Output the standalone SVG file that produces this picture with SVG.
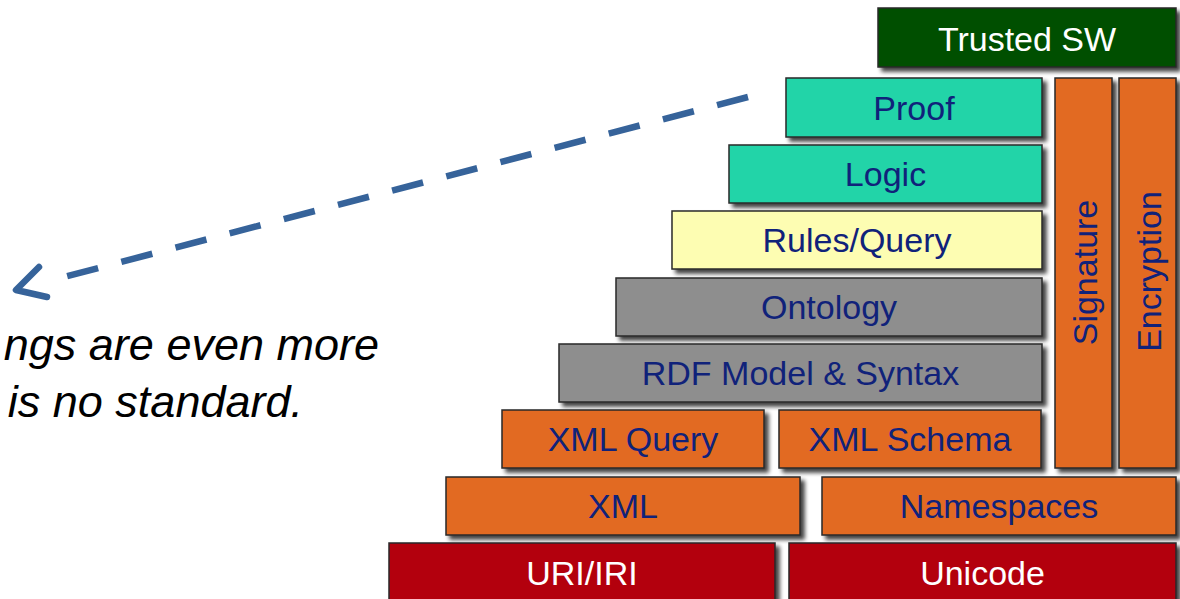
<svg xmlns="http://www.w3.org/2000/svg" width="1180" height="599" viewBox="0 0 1180 599">
<defs>
<filter id="sh" x="-10%" y="-20%" width="130%" height="150%">
<feDropShadow dx="4" dy="4" stdDeviation="2" flood-color="#000" flood-opacity="0.75"/>
</filter>
</defs>
<style>
.b{stroke:#2a2a2a;stroke-width:1.5;filter:url(#sh)}
.t{font-family:"Liberation Sans",Arial,sans-serif;font-size:34px;text-anchor:middle;fill:#10227a}
.w{fill:#ffffff}
.green{fill:#024f02}
.teal{fill:#24d4a8}
.yel{fill:#fdfdb2}
.gray{fill:#8e8e8e}
.or{fill:#e26a22}
.red{fill:#b3000d}
.note{font-family:"Liberation Sans",Arial,sans-serif;font-size:45px;font-style:italic;fill:#000;text-anchor:end}
.arr{fill:none;stroke:#36639a;stroke-width:6.5}
</style>
<rect width="1180" height="599" fill="#ffffff"/>
<g id="connectors">
<line class="arr" x1="748" y1="97" x2="64" y2="277" stroke-dasharray="32 24"/>
<polygon points="16,290 18,287 19,292" fill="#36639a"/>
<polyline class="arr" points="39,267 16,290 47,297" stroke-linecap="round" stroke-linejoin="round" stroke-width="9"/>
</g>
<g id="note">
<text class="note" x="379" y="360">ngs are even more</text>
<text class="note" x="303" y="417">is no standard.</text>
</g>
<g id="trusted"><rect class="b green" x="878" y="8" width="298" height="59"/><text class="t w" x="1027" y="51">Trusted SW</text></g>
<g id="proof"><rect class="b teal" x="786" y="78" width="256" height="59"/><text class="t" x="914" y="120">Proof</text></g>
<g id="logic"><rect class="b teal" x="729" y="145" width="313" height="58"/><text class="t" x="885.5" y="186">Logic</text></g>
<g id="rules"><rect class="b yel" x="672" y="211" width="370" height="58"/><text class="t" x="857" y="252">Rules/Query</text></g>
<g id="ontology"><rect class="b gray" x="616" y="278" width="426" height="58"/><text class="t" x="829" y="319">Ontology</text></g>
<g id="rdf"><rect class="b gray" x="559" y="344" width="483" height="58"/><text class="t" x="800.5" y="385">RDF Model &amp; Syntax</text></g>
<g id="xmlquery"><rect class="b or" x="502" y="410" width="262" height="58"/><text class="t" x="633" y="451">XML Query</text></g>
<g id="xmlschema"><rect class="b or" x="779" y="410" width="262" height="58"/><text class="t" x="910" y="451">XML Schema</text></g>
<g id="xml"><rect class="b or" x="446" y="477" width="354" height="58"/><text class="t" x="623" y="518">XML</text></g>
<g id="namespaces"><rect class="b or" x="822" y="477" width="354" height="58"/><text class="t" x="999" y="518">Namespaces</text></g>
<g id="uri"><rect class="b red" x="389" y="543" width="386" height="62"/><text class="t w" x="582" y="585">URI/IRI</text></g>
<g id="unicode"><rect class="b red" x="789" y="543" width="387" height="62"/><text class="t w" x="982.5" y="585">Unicode</text></g>
<g id="signature"><rect class="b or" x="1055" y="78" width="57" height="390"/><text class="t" transform="translate(1096.5,272.5) rotate(-90)" x="0" y="0">Signature</text></g>
<g id="encryption"><rect class="b or" x="1119" y="78" width="57" height="390"/><text class="t" transform="translate(1161,271.5) rotate(-90)" x="0" y="0">Encryption</text></g>
</svg>
